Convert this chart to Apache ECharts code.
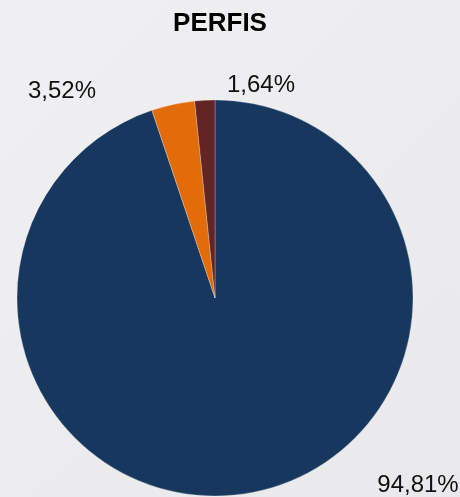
<!DOCTYPE html>
<html><head><meta charset="utf-8">
<script src="https://cdn.jsdelivr.net/npm/echarts@6/dist/echarts.min.js"></script>
<style>html,body{margin:0;padding:0;}#c{width:460px;height:497px;}</style>
</head><body><div id="c"></div>
<script>
const categories = ['A', 'B', 'C'];
const values = [94.81, 3.52, 1.64];
const labels = ['94,81%', '3,52%', '1,64%'];
const colors = ['#17375E', '#E36C0A', '#632523'];
const labelPos = [[418, 485], [62, 91], [261, 85]];

const chart = echarts.init(document.getElementById('c'));
chart.setOption({
  backgroundColor: {type:'linear', x:0, y:0, x2:1, y2:1, colorStops:[{offset:0,color:'#f0f0f2'},{offset:1,color:'#e9e9eb'}]},
  title: {text:'PERFIS', left:215, top:6, textAlign:'center', textStyle:{fontFamily:'Liberation Sans', fontWeight:'bold', fontSize:26, color:'#000'}},
  series: [{
    type:'pie', center:[215, 298], radius:[0, 198], startAngle:90, clockwise:true,
    animation:false,
    data: categories.map((c,i)=>({name:c, value:values[i], itemStyle:{color:colors[i]}})),
    itemStyle:{borderColor:'rgba(255,255,255,0.5)', borderWidth:0.5},
    label:{show:true, position:'outside', formatter:p=>labels[p.dataIndex], fontFamily:'Liberation Sans', fontSize:24, color:'#111'},
    labelLine:{show:false},
    labelLayout: p => ({x: labelPos[p.dataIndex][0], y: labelPos[p.dataIndex][1], align:'center', verticalAlign:'middle'}),
    emphasis:{disabled:true}
  }]
});
</script></body></html>
